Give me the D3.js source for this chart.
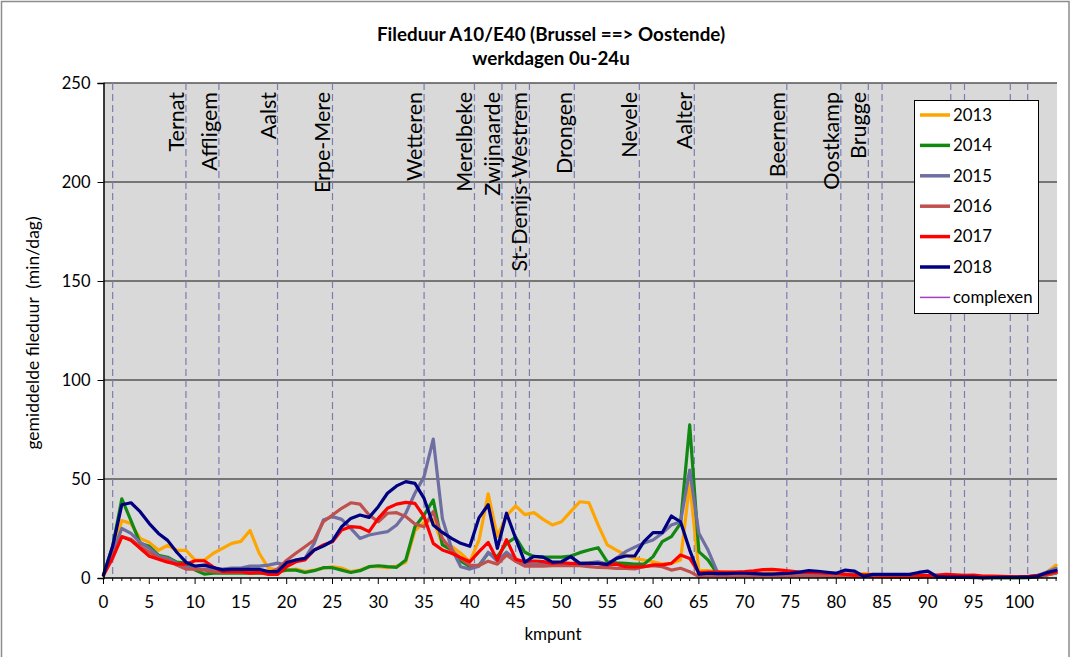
<!DOCTYPE html>
<html><head><meta charset="utf-8">
<script src="https://cdn.jsdelivr.net/npm/d3@7"></script>
<style>
html,body{margin:0;padding:0;background:#fff;}
text{font-family:Lato,"Open Sans",sans-serif;fill:#000;}
</style></head>
<body><svg id="chart" width="1071" height="657"></svg>
<script>
const kmpunten = d3.range(0, 105);
const s2013 = [1.5,13,29,27.5,20,18,14,16.5,14,14,9,9,12.5,15,17.5,18.5,24,12.5,5,4,4,
 4.5,3.2,4,5,5.7,5,3.2,4,5.7,5.7,5.2,6,8,24,28,29.5,17,16,12.5,
 8.2,19.2,42.5,21,31.5,36.4,32,33,29.6,26.8,28.4,33.5,38.5,38,26.8,16.7,14.1,11.6,9.9,
 9.1,8.2,7,7.4,9.1,47.8,3.7,3.7,3.2,
 3,3,2.8,2.5,2.5,2.5,2.5,2.3,2.2,2,2,2,2,1.8,1.8,2.2,1.8,1.6,1.5,1.4,1.4,1.3,1.2,1,1,0.8,0.8,0.6,0.4,0.3,0.3,0.3,0.3,0.5,1.2,3,6.5];
const s2014 = [1.5,16,40,29,17.5,16,11.5,10.5,8,7.5,4,2,2.5,2.5,2.5,2.5,2.5,2.5,2.5,3,4,
 4,2.8,3.7,5.2,5.2,4,2.8,3.7,5.7,6.2,5.7,5.4,9.1,25.9,31.8,39.4,16.7,14.1,8.5,
 5.7,6.5,12.5,10.8,17.5,20.5,13,10.8,10.5,10.5,10.5,11.1,12.8,14.1,15.3,8.2,7.7,7.4,7,
 7,10.8,18.4,20.9,27.6,77.3,13.3,9.1,2.4,
 2,2,1.8,1.8,1.6,1.5,1.5,1.4,1.3,1.2,1.2,1.1,1,1,0.9,0.8,0.8,0.7,0.6,0.6,0.5,0.5,0.5,0.4,0.4,0.3,0.3,0.2,0.2,0.2,0.1,0.1,0.1,0.2,0.6,1.5,2.5];
const s2015 = [1.5,13,25,22.5,18,15,11,10,7.5,5.5,4.5,4.5,4.5,4.5,5,5,6,6,6.5,7.5,6.5,
 9.1,9.9,17.5,29.3,31,29.6,25.1,20,21.7,22.6,23.4,26.8,32.7,42.8,51.2,70.2,30,15,5.7,
 4.5,6,13,8.6,13,9.5,7,6.8,6.8,7,6.8,6.8,7.4,7.7,8.2,7,9.9,13.3,15.6,
 17.7,19.2,22.6,26.8,28.4,54.5,22.6,14.1,3.2,
 2,2,2,1.9,1.8,1.8,1.7,1.8,2,2.2,2.3,2.2,2,2,1.8,1.3,1.4,1.4,1.4,1.4,1.4,1.4,1.3,1,0.8,0.8,0.7,0.6,0.5,0.4,0.4,0.4,0.4,0.6,1.3,3,5];
const s2016 = [1.5,11,21,19.5,16,13,10,9,6.5,4.5,4.5,4,3.2,3,3,3,2.8,2.8,2.5,4.5,9,
 12.5,15.8,19.2,28.4,31.8,35.2,38,37.3,31.8,28.4,32.7,33,31,27.3,25.9,33.5,20,14.1,9.9,
 6.5,6.3,8.5,7,11.6,8.4,6,6,6,6.2,6.2,6.2,6.2,5.7,5.3,5.2,4.9,4.9,4.6,
 5.7,6.2,5.7,4,4.9,3.2,0.7,1,1,
 1,1,1,1.1,1.2,1.2,1.1,1,1,1,1,0.9,0.9,0.8,0.8,0.7,0.7,0.7,0.6,0.6,0.6,0.5,0.5,0.5,0.4,0.4,0.4,0.3,0.3,0.3,0.3,0.3,0.3,0.4,0.8,1.5,2.5];
const s2017 = [1.5,10,20.8,19,15,11,9.5,8,7,7,8.7,8.7,5.5,3.2,3.2,3.2,2.5,2.8,1.8,1.8,5.7,
 8.2,9.1,14.1,16.7,18.3,24.2,25.9,25.6,23.4,30.1,35.2,37.3,38.2,37.7,31,17.5,14.1,12.5,10.3,
 8.2,13.3,18,9,19.4,9.5,8.2,8.6,8.3,7.4,7.7,7.4,7.2,7.4,7.2,6.6,7,5.7,5.6,
 5.7,6.6,6.6,7.4,11.6,9.9,2.7,3,3,
 3,3,3.2,3.6,4.2,4.4,4,3.5,3,2.8,2.7,2.5,2.4,1.8,1.5,1.6,1.6,1.5,1.5,1.5,1.4,1.3,1.2,1.5,1.8,1.6,1.3,1.5,1,0.9,0.8,0.7,0.6,0.8,1.3,2,3];
const s2018 = [1.5,16,37,38,33.5,27.5,22.5,19,13,8,6,6.5,5.3,4.1,4.4,4.4,4.4,4.4,3.2,3.2,7.8,
 9.1,9.9,14.1,16.1,18.8,25.9,30.1,31.8,30.6,36,42.8,46.5,48.7,47.8,40.2,26.8,23,20,17.5,
 16,30.5,37,15,32.7,20,8,11,10.5,8,8.2,10.8,7.4,7.4,7.4,6.9,9.9,11.1,11.1,
 18.4,22.9,22.9,31.3,28.4,14.1,2,2.4,2.2,
 2.2,2.4,2.4,2.2,2,2,2.2,2.4,3,3.7,3.4,2.9,2.4,4,3.5,0.8,1.8,1.8,1.8,1.8,1.8,2.8,3.5,0.7,0.4,0.4,0.5,0.4,0.1,0.2,0.3,0.3,0.4,0.4,1,2.7,3.8];

const seriesNames = ["2013","2014","2015","2016","2017","2018"];
const seriesValues = [s2013, s2014, s2015, s2016, s2017, s2018];
const seriesColors = ["#ffa500","#118811","#6e6ea3","#c0504d","#ff0000","#000080"];

const complexKm = [1,9,12.6,19,25,35,40.5,43.5,45,46.5,51.4,58.5,64.5,74.6,80.5,83.5,85,92.5,94,99,100.9];
const complexNames = ["Ternat","Affligem","Aalst","Erpe-Mere","Wetteren","Merelbeke","Zwijnaarde","St-Denijs-Westrem","Drongen","Nevele","Aalter","Beernem","Oostkamp","Brugge"];
const complexNameKm = [9,12.6,19,25,35,40.5,43.5,46.5,51.4,58.5,64.5,74.6,80.5,83.5];

const yTicks = [0,50,100,150,200,250];
const xTicks = d3.range(0, 101, 5);

const svg = d3.select("#chart");
const x = d3.scaleLinear().domain([0,104.1]).range([103.5,1057]);
const y = d3.scaleLinear().domain([0,250]).range([578,83]);

// outer border
svg.append("rect").attr("x",1.5).attr("y",1.5).attr("width",1067.5).attr("height",670)
  .attr("fill","none").attr("stroke","#8c8c8c").attr("stroke-width",1.5);

// plot bg
svg.append("rect").attr("x",x(0)).attr("y",y(250)).attr("width",x(104.1)-x(0)).attr("height",y(0)-y(250))
  .attr("fill","#d9d9d9");

// gridlines
svg.append("g").selectAll("line").data(yTicks.filter(d=>d>0)).join("line")
  .attr("x1",x(0)).attr("x2",x(104.1)).attr("y1",d=>y(d)).attr("y2",d=>y(d))
  .attr("stroke","#555").attr("stroke-width",1.5);

// complexen lines
svg.append("g").selectAll("line").data(complexKm).join("line")
  .attr("x1",d=>x(d)).attr("x2",d=>x(d)).attr("y1",y(250)).attr("y2",y(0))
  .attr("stroke","#7c7cb0").attr("stroke-width",1.2).attr("stroke-dasharray","7,4");

// complex labels
svg.append("g").selectAll("text").data(complexNames).join("text")
  .attr("transform",(d,i)=>`translate(${x(complexNameKm[i])-2},92) rotate(-90)`)
  .attr("text-anchor","end").attr("font-size",21.5).text(d=>d);

// series lines
const line = d3.line().x((d,i)=>x(kmpunten[i])).y(d=>y(d));
seriesValues.forEach((vals,i)=>{
  svg.append("path").datum(vals).attr("d",line).attr("fill","none")
    .attr("stroke",seriesColors[i]).attr("stroke-width",3.2)
    .attr("stroke-linejoin","round").attr("stroke-linecap","round");
});

// y axis
const yAxis = d3.axisLeft(y).tickValues(yTicks).tickSize(6).tickPadding(7);
const gy = svg.append("g").attr("transform",`translate(${x(0)},0)`).call(yAxis);
gy.select(".domain").attr("stroke","#000").attr("stroke-width",1.5);
gy.selectAll(".tick line").attr("stroke","#000");
gy.selectAll(".tick text").attr("font-size",16.5).attr("font-family","Lato");

// x axis minor ticks
const gx = svg.append("g").attr("transform",`translate(0,${y(0)})`);
gx.append("line").attr("x1",x(0)).attr("x2",x(104.1)).attr("stroke","#000").attr("stroke-width",1.5);
gx.selectAll("line.tk").data(d3.range(0,105)).join("line").attr("class","tk")
  .attr("x1",d=>x(d)).attr("x2",d=>x(d)).attr("y1",0).attr("y2",d=>d%5===0?6:3)
  .attr("stroke","#000");
gx.selectAll("text").data(xTicks).join("text")
  .attr("x",d=>x(d)).attr("y",30).attr("text-anchor","middle").attr("font-size",17).text(d=>d);

// titles
svg.append("text").attr("x",551).attr("y",41).attr("text-anchor","middle")
  .attr("font-size",18.8).attr("font-weight","bold").text("Fileduur A10/E40 (Brussel ==> Oostende)");
svg.append("text").attr("x",551).attr("y",65).attr("text-anchor","middle")
  .attr("font-size",18.8).attr("font-weight","bold").text("werkdagen 0u-24u");
svg.append("text").attr("transform","translate(39,333) rotate(-90)").attr("text-anchor","middle")
  .attr("font-size",17.5).attr("xml:space","preserve").text("gemiddelde fileduur  (min/dag)");
svg.append("text").attr("x",553).attr("y",640).attr("text-anchor","middle")
  .attr("font-size",17).text("kmpunt");

// legend
const lg = svg.append("g");
lg.append("rect").attr("x",914.5).attr("y",100.5).attr("width",124).attr("height",213)
  .attr("fill","#fff").attr("stroke","#000").attr("stroke-width",1);
const legNames = seriesNames.concat(["complexen"]);
const legColors = seriesColors.concat(["#a040c0"]);
legNames.forEach((n,i)=>{
  const yy = 115 + i*30.4;
  lg.append("line").attr("x1",920).attr("x2",950).attr("y1",yy).attr("y2",yy)
    .attr("stroke",legColors[i]).attr("stroke-width",i<6?3.5:1.5);
  lg.append("text").attr("x",953).attr("y",yy).attr("dy","0.35em").attr("font-size",16.8).text(n);
});
</script></body></html>
